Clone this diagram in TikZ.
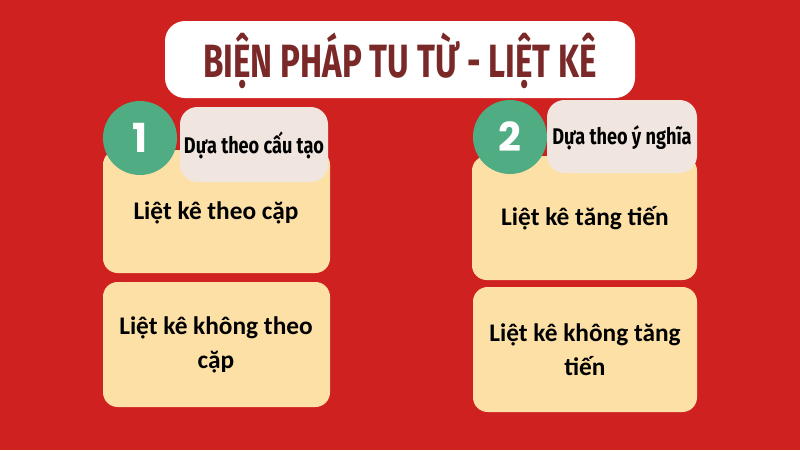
\documentclass[tikz,border=0pt]{standalone}
\usepackage{fontspec}
\setmainfont{Carlito}
\newfontfamily\titlefont{Fira Sans}[FakeStretch=0.71]
\newfontfamily\narrowfont{Fira Sans}[FakeStretch=0.80]
\newfontfamily\numfont{Poppins}

\definecolor{bgred}{HTML}{CF2120}
\definecolor{titlered}{HTML}{7A2828}
\definecolor{boxbeige}{HTML}{FCE0A6}
\definecolor{boxgrey}{HTML}{F0E5DF}
\definecolor{numgreen}{HTML}{50AC83}

\tikzset{every picture/.style={line width=0.75pt}}
\tikzset{
  beigebox/.style={fill=boxbeige, rounded corners=11pt},
  greybox/.style={fill=boxgrey, rounded corners=13pt},
  itemtext/.style={inner sep=0.75pt, align=center, font=\fontsize{19}{25.5}\selectfont\bfseries},
  headtext/.style={inner sep=0.75pt, font=\narrowfont\fontsize{17}{18}\selectfont\bfseries},
  numdisc/.style={circle, fill=numgreen, minimum size=55.5pt, inner sep=0pt, text=white, font=\numfont\fontsize{30}{30}\selectfont\bfseries}
}

\begin{document}
\begin{tikzpicture}[x=0.75pt,y=0.75pt,yscale=-1,xscale=1]
%Background
\fill [bgred] (0,0) rectangle (800,450) ;
\useasboundingbox (0,0) rectangle (800,450) ;

%Title box
\fill [white, rounded corners=15pt] (165,21) rectangle (635,98) ;
% Text Node
\draw (400,61) node (title) [inner sep=0.75pt, text=titlered, font=\titlefont\fontsize{35}{35}\selectfont\bfseries] {BIỆN PHÁP TU TỪ - LIỆT KÊ};

%Left column boxes
\fill [beigebox] (103,150) rectangle (330,273) ;
\fill [beigebox] (103,282) rectangle (330,407) ;
\fill [greybox] (180,107) rectangle (328,182) ;
%Right column boxes
\fill [beigebox] (472,156) rectangle (697,280) ;
\fill [beigebox] (473,287) rectangle (697,412) ;
\fill [greybox] (547,100) rectangle (697,173) ;

%Number discs
\draw (140,138) node (numone) [numdisc] {1};
\draw (510,137) node (numtwo) [numdisc] {2};

% Text Node
\draw (254,145) node (headone) [headtext] {Dựa theo cấu tạo};
% Text Node
\draw (622,138) node (headtwo) [headtext] {Dựa theo ý nghĩa};
% Text Node
\draw (216,213) node (pairitem) [itemtext] {Liệt kê theo cặp};
% Text Node
\draw (216,345) node (nopairitem) [itemtext] {Liệt kê không theo\\cặp};
% Text Node
\draw (585,218) node (riseitem) [itemtext] {Liệt kê tăng tiến};
% Text Node
\draw (585,350) node (noriseitem) [itemtext] {Liệt kê không tăng\\tiến};

\end{tikzpicture}
\end{document}
